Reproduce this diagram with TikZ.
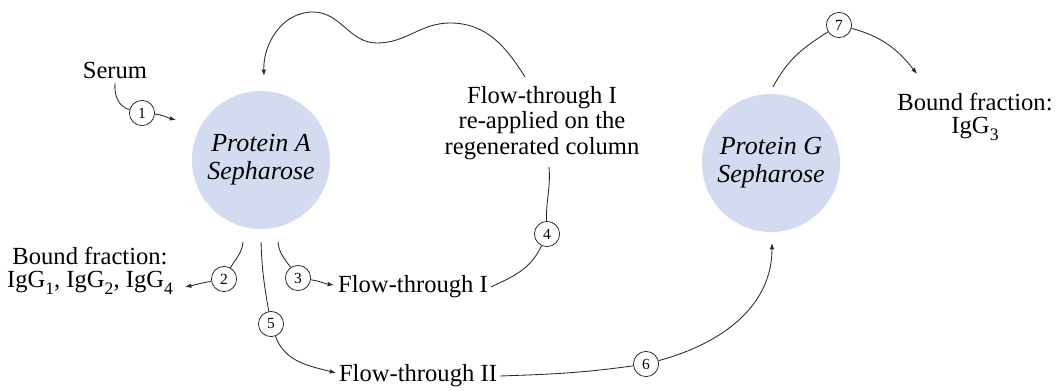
\documentclass[tikz,border=0pt]{standalone}
\usepackage{fontspec}
\setmainfont{Liberation Serif}
\usetikzlibrary{arrows.meta}
\definecolor{colfill}{RGB}{211,219,241}
\definecolor{linec}{RGB}{40,40,40}
\newcommand{\lowsub}[1]{\raisebox{-0.28em}{\fontsize{12.5}{12.5}\selectfont #1}}
\tikzset{
  col/.style={circle, fill=colfill, minimum size=3.45cm, inner sep=0pt, align=center,
              font=\fontsize{18.5}{20}\selectfont\itshape},
  num/.style={circle, draw=linec, line width=0.55pt, fill=white, minimum size=0.63cm, inner sep=0pt,
              font=\fontsize{11}{12}\selectfont},
  lbl/.style={align=center, inner sep=1pt, font=\fontsize{17.5}{18.1}\selectfont},
  conn/.style={draw=linec, line width=0.6pt},
  arr/.style={conn, -{Latex[length=4.5pt,width=3.2pt]}},
}
\begin{document}
\begin{tikzpicture}[x=0.025cm, y=0.025cm]
\useasboundingbox (0,0) rectangle (1058,390);
% columns
\node[col] (A) at (261,230) {Protein A\\Sepharose};
\node[col] (G) at (771,227) {Protein G\\Sepharose};
% labels
\node[lbl] (serum) at (115,320) {Serum};
\node[lbl, font=\fontsize{17.5}{16.2}\selectfont] (bound1) at (90,119) {Bound fraction:\\IgG\lowsub{1}, IgG\lowsub{2}, IgG\lowsub{4}};
\node[lbl] (ft1) at (413,103) {Flow-through I};
\node[lbl] (ft2) at (418,14) {Flow-through II};
\node[lbl] (reapp) at (542,267) {Flow-through I\\re-applied on the\\regenerated column};
\node[lbl, font=\fontsize{17.5}{16.4}\selectfont] (bound3) at (975,273) {Bound fraction:\\IgG\lowsub{3}};
% step numbers
\node[num] (n1) at (142,277) {1};
\node[num] (n2) at (224,111) {2};
\node[num] (n3) at (298,112) {3};
\node[num] (n4) at (547,156) {4};
\node[num] (n5) at (271,66) {5};
\node[num] (n6) at (646,26) {6};
\node[num] (n7) at (839,365) {7};
% free ends
\coordinate (e1) at (176,270);
\coordinate (a2) at (243,148);
\coordinate (a3) at (278,148);
\coordinate (a5) at (261,148);
\coordinate (e2) at (185,103);
\coordinate (e3) at (334,105);
\coordinate (e5) at (336,17);
\coordinate (t4) at (549,223);
\coordinate (r1) at (525,313);
\coordinate (w1) at (450,367);
\coordinate (w2) at (377,347);
\coordinate (w3) at (313,378);
\coordinate (eA) at (264,314);
\coordinate (e6) at (772,147);
\coordinate (g7) at (773,303);
\coordinate (e7) at (917,316);
% connectors
\draw[conn] ([yshift=-2pt]serum.south) to[out=-95,in=165] (n1);
\draw[arr] (n1) to[out=-5,in=165] (e1);
\draw[conn] (a2) to[out=-95,in=60] (n2);
\draw[arr] (n2) to[out=190,in=12] (e2);
\draw[conn] (a3) to[out=-85,in=125] (n3);
\draw[arr] (n3) to[out=-8,in=172] (e3);
\draw[conn] (a5) to[out=-88,in=100] (n5);
\draw[arr] (n5) to[out=-70,in=165] (e5);
\draw[conn] ([xshift=1pt]ft1.east) to[out=25,in=-115] (n4);
\draw[conn] (n4) to[out=92,in=-85] (t4);
\draw[arr] (r1) to[out=122,in=0] (w1) to[out=180,in=0] (w2) to[out=180,in=0] (w3) to[out=180,in=92] (eA);
\draw[conn] ([xshift=1pt]ft2.east) to[out=2,in=188] (n6);
\draw[arr] (n6) to[out=15,in=-90] (e6);
\draw[conn] (g7) to[out=62,in=-148] (n7);
\draw[arr] (n7) to[out=-15,in=128] (e7);
\end{tikzpicture}
\end{document}
